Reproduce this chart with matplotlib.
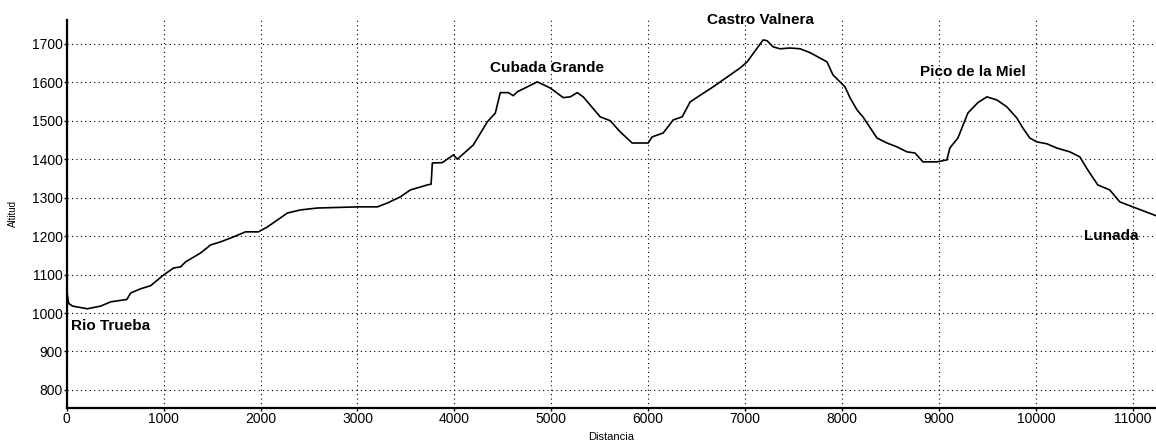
import matplotlib.pyplot as plt

# Elevation profile: distance (m) and altitude (m)
distancia = [
    0, 20, 60, 213, 351, 454, 588, 620, 660, 763, 866, 1000, 1103, 1175, 1227,
    1381, 1485, 1588, 1722, 1845, 1979, 2072, 2175, 2278, 2412, 2588, 3010,
    3206, 3309, 3443, 3546, 3722, 3760, 3773, 3876, 3990, 4031, 4196, 4340,
    4423, 4474, 4557, 4608, 4649, 4856, 4990, 5124, 5196, 5268, 5330, 5505,
    5608, 5711, 5835, 6000, 6041, 6155, 6258, 6351, 6433, 6670, 6948, 7021,
    7186, 7227, 7289, 7361, 7464, 7567, 7670, 7845, 7907, 8031, 8082, 8155,
    8216, 8361, 8464, 8567, 8670, 8753, 8835, 8979, 9082, 9113, 9196, 9299,
    9402, 9495, 9598, 9701, 9804, 9866, 9938, 10010, 10113, 10216, 10351,
    10454, 10536, 10639, 10763, 10866, 11000, 11240,
]
altitud = [
    1060, 1025, 1018, 1011, 1018, 1029, 1034, 1035, 1052, 1063, 1071, 1099,
    1117, 1120, 1133, 1156, 1177, 1185, 1198, 1211, 1211, 1224, 1242, 1260,
    1268, 1273, 1276, 1276, 1286, 1302, 1320, 1333, 1335, 1390, 1391, 1411,
    1400, 1437, 1497, 1520, 1573, 1573, 1565, 1575, 1601, 1585, 1560, 1562,
    1573, 1562, 1510, 1500, 1471, 1442, 1442, 1458, 1468, 1502, 1510, 1549,
    1588, 1637, 1653, 1710, 1708, 1692, 1687, 1689, 1687, 1677, 1653, 1619,
    1588, 1560, 1528, 1510, 1455, 1442, 1432, 1419, 1416, 1393, 1393, 1398,
    1429, 1455, 1520, 1547, 1562, 1554, 1536, 1507, 1481, 1455, 1445, 1440,
    1429, 1419, 1406, 1372, 1333, 1320, 1289, 1276, 1253,
]

# Place names and where they sit on the chart
nombres = ["Rio Trueba", "Cubada Grande", "Castro Valnera", "Pico de la Miel", "Lunada"]
nombre_x = [40, 4370, 7155, 8800, 10500]
nombre_y = [966, 1638, 1762, 1627, 1200]
nombre_ha = ["left", "left", "center", "left", "left"]

fig = plt.figure(figsize=(11.56, 4.43), dpi=100)
ax = fig.add_axes([0.0577, 0.079, 0.9423, 0.876])

ax.plot(distancia, altitud, color="black", linewidth=1.2)

ax.set_xlim(0, 11240)
ax.set_ylim(753, 1762)
ax.set_xticks(range(0, 11001, 1000))
ax.set_yticks(range(800, 1701, 100))
ax.grid(True, color="black", linestyle=(0, (1, 3)), linewidth=0.8)

for s in ["top", "right"]:
    ax.spines[s].set_visible(False)
for s in ["left", "bottom"]:
    ax.spines[s].set_linewidth(1.6)

ax.tick_params(labelsize=10, length=2, width=1, pad=1)
for lab in ax.get_xticklabels() + ax.get_yticklabels():
    lab.set_family("Liberation Sans")

ax.set_xlabel("Distancia", fontsize=8, family="Liberation Sans", labelpad=4)
ax.set_ylabel("Altitud", fontsize=7, family="Liberation Sans", labelpad=10)

for n, x, y, ha in zip(nombres, nombre_x, nombre_y, nombre_ha):
    ax.text(x, y, n, ha=ha, va="center", fontsize=11, fontweight="bold",
            family="Liberation Sans", clip_on=False)

fig.savefig("out.png", dpi=100)
